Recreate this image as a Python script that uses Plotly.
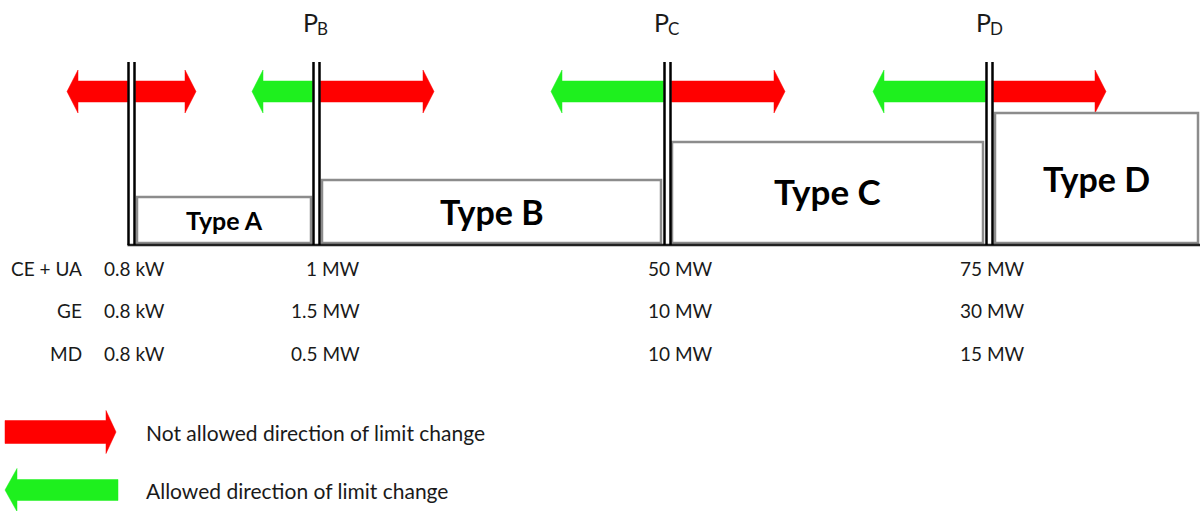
import plotly.graph_objects as go

# ---------------- data ----------------
type_names = ["Type A", "Type B", "Type C", "Type D"]
threshold_main = ["P", "P", "P"]
threshold_sub = ["B", "C", "D"]
regions = ["CE + UA", "GE", "MD"]
limit_type_a = ["0.8 kW", "0.8 kW", "0.8 kW"]
limit_pb = ["1 MW", "1.5 MW", "0.5 MW"]
limit_pc = ["50 MW", "10 MW", "10 MW"]
limit_pd = ["75 MW", "30 MW", "15 MW"]
# arrow colour at each boundary: left arrow allowed?, right arrow allowed?
left_allowed = [False, True, True, True]
right_allowed = [False, False, False, False]
legend_labels = ["Not allowed direction of limit change", "Allowed direction of limit change"]

# ---------------- layout constants (pixel space) ----------------
W, H = 1200, 511
RED = "#FF0000"
GREEN = "#1EF01E"
FONT = "Lato"

boundary_x = [128.5, 313.5, 664.5, 986.5]    # first line of each double line
gap = 6
line_top, base_y = 62, 245
box_x = [(137, 311), (322, 661), (672, 983), (995, 1198)]
box_top = [197, 180, 142, 113]
box_bottom = 243
type_font = [25, 34, 35, 34]
type_label_y = [220, 211, 191, 178]
left_tips = [67, 252, 551, 873]
right_tips = [196, 434, 785, 1106]
arrow_y = 91.5
body_half, head_half, head_len = 10.5, 21.5, 11
row_y = [268, 310, 353]

fig = go.Figure()


def arrow(x_start, x_tip, yc, color, bh=body_half, hh=head_half, hl=head_len):
    d = 1 if x_tip > x_start else -1
    hb = x_tip - d * hl
    xs = [x_start, hb, hb, x_tip, hb, hb, x_start, x_start]
    ys = [yc - bh, yc - bh, yc - hh, yc, yc + hh, yc + bh, yc + bh, yc - bh]
    fig.add_trace(go.Scatter(x=xs, y=ys, mode="lines", fill="toself",
                             fillcolor=color, line=dict(color=color, width=0.5),
                             hoverinfo="skip", showlegend=False))


shapes = []
# boxes
for (x0, x1), top in zip(box_x, box_top):
    shapes.append(dict(type="rect", x0=x0, x1=x1, y0=top, y1=box_bottom,
                       line=dict(color="#8c8c8c", width=2.5), fillcolor="white"))
# baseline
shapes.append(dict(type="line", x0=boundary_x[0] - 1, x1=W, y0=base_y, y1=base_y,
                   line=dict(color="#222222", width=2.5)))
# double lines
for bx in boundary_x:
    for dx in (0, gap):
        shapes.append(dict(type="line", x0=bx + dx, x1=bx + dx, y0=line_top, y1=base_y,
                           line=dict(color="black", width=2.5)))

# arrows at boundaries
for i, bx in enumerate(boundary_x):
    arrow(bx - 1, left_tips[i], arrow_y, GREEN if left_allowed[i] else RED)
    arrow(bx + gap + 1, right_tips[i], arrow_y, GREEN if right_allowed[i] else RED)

# legend arrows
arrow(5, 116, 432, RED, bh=11.5, hh=21.5, hl=10)
arrow(118, 5, 490, GREEN, bh=10.5, hh=21.5, hl=12)

annotations = []
for i, name in enumerate(type_names):
    x0, x1 = box_x[i]
    annotations.append(dict(x=(x0 + x1) / 2, y=type_label_y[i], text=f"<b>{name}</b>",
                            showarrow=False, font=dict(family=FONT, size=type_font[i], color="black")))
for i in range(len(threshold_main)):
    px = boundary_x[i + 1] + gap / 2
    annotations.append(dict(x=px + 2, y=22, text=threshold_main[i], xanchor="right", showarrow=False,
                            borderpad=0, font=dict(family=FONT, size=25, color="#1a1a1a")))
    annotations.append(dict(x=px - 1, y=28, text=threshold_sub[i], xanchor="left", showarrow=False,
                            borderpad=0, font=dict(family=FONT, size=17, color="#1a1a1a")))

txt = dict(family=FONT, size=19, color="#1a1a1a")
for j, r in enumerate(regions):
    annotations.append(dict(x=84, y=row_y[j], text=r, xanchor="right", showarrow=False, font=txt))
    annotations.append(dict(x=102, y=row_y[j], text=limit_type_a[j], xanchor="left", showarrow=False, font=txt))
    annotations.append(dict(x=362, y=row_y[j], text=limit_pb[j], xanchor="right", showarrow=False, font=txt))
    annotations.append(dict(x=680, y=row_y[j], text=limit_pc[j], xanchor="center", showarrow=False, font=txt))
    annotations.append(dict(x=992, y=row_y[j], text=limit_pd[j], xanchor="center", showarrow=False, font=txt))

for k, lab in enumerate(legend_labels):
    annotations.append(dict(x=144, y=[432, 490][k], text=lab, xanchor="left", showarrow=False,
                            font=dict(family=FONT, size=21, color="#1a1a1a")))

fig.update_layout(
    width=W, height=H, margin=dict(l=0, r=0, t=0, b=0),
    paper_bgcolor="white", plot_bgcolor="white",
    xaxis=dict(range=[0, W], visible=False, fixedrange=True),
    yaxis=dict(range=[H, 0], visible=False, fixedrange=True),
    shapes=shapes, annotations=annotations, showlegend=False,
)
fig.write_html("out.html", config={"displayModeBar": False},
               post_script="document.body.style.margin='0';document.body.style.overflow='hidden';")
